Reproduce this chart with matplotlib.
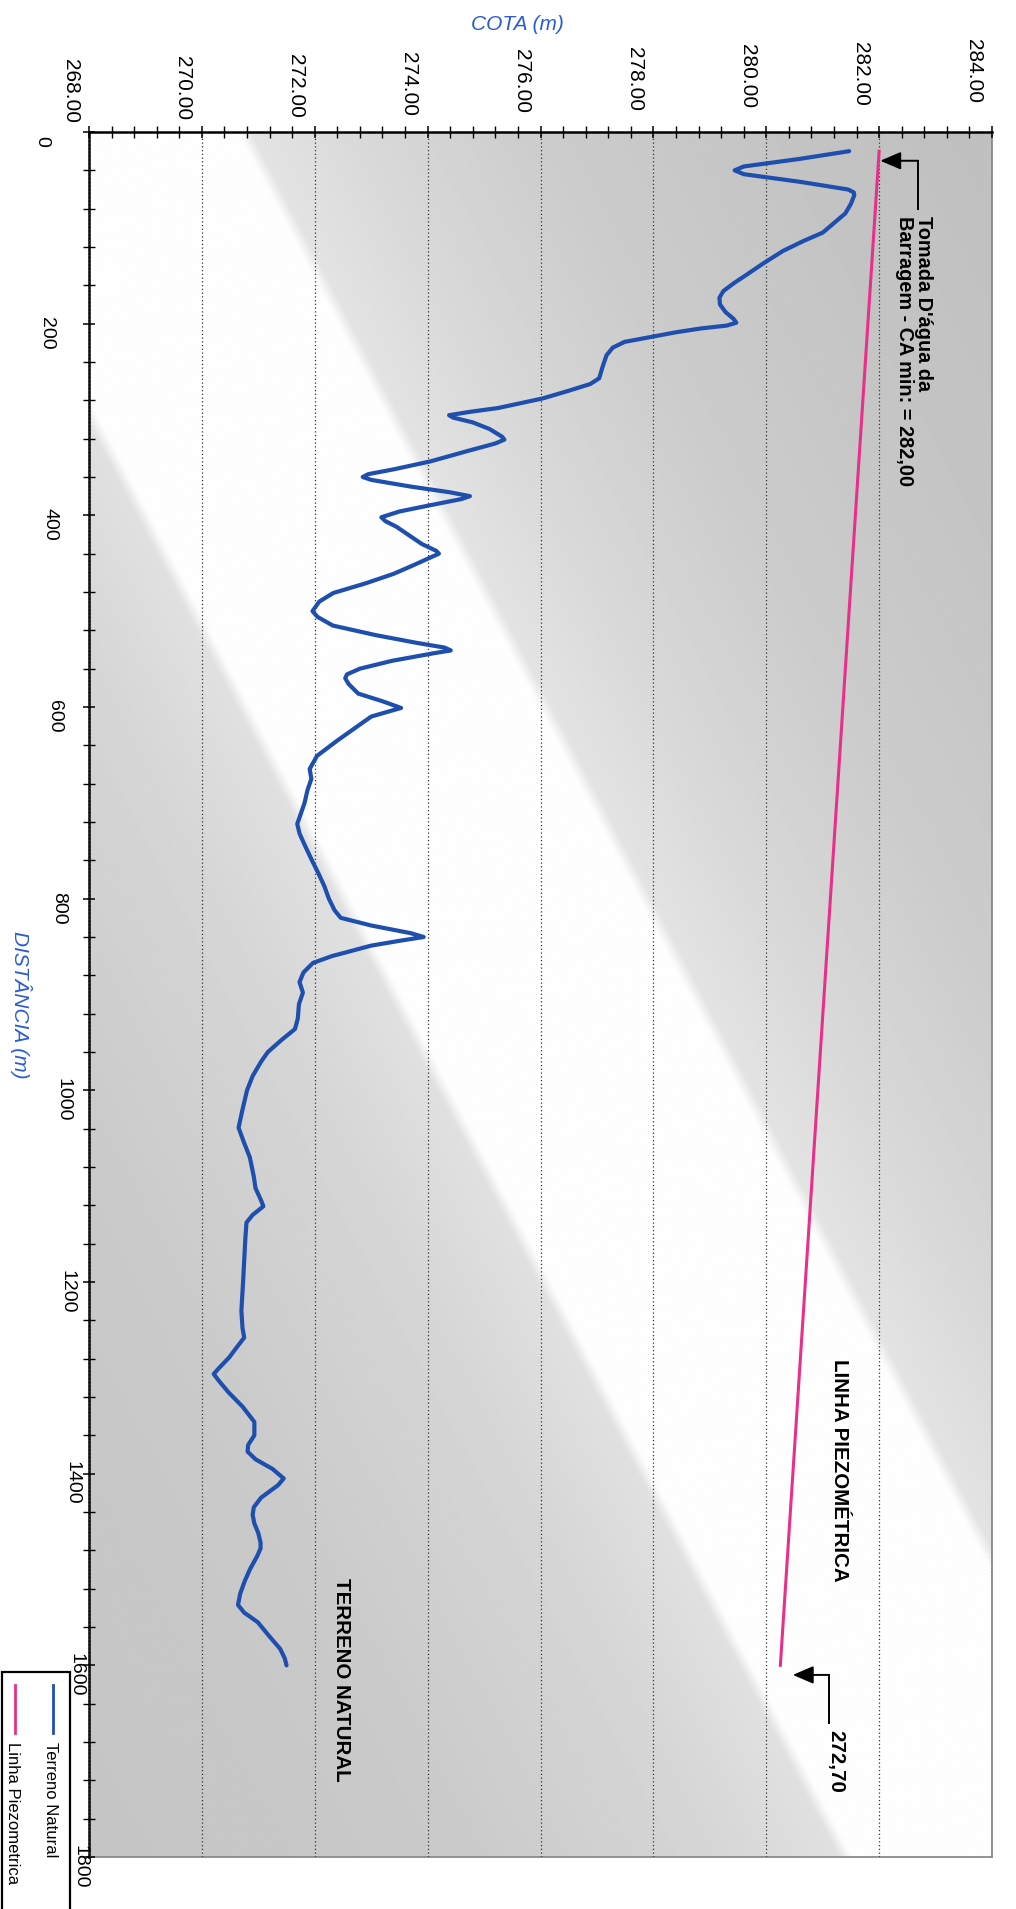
import matplotlib
matplotlib.use('Agg')
import matplotlib.pyplot as plt
import numpy as np
from matplotlib import font_manager
from matplotlib import transforms
from matplotlib.patches import Rectangle
from matplotlib.lines import Line2D
from matplotlib.ticker import MultipleLocator, FixedLocator

# ---- data (distancia em m, cota em m) ----
dist_terreno = [20, 28, 36, 40, 44, 52, 60, 63, 66, 75, 85, 95, 105, 114, 124, 137, 149, 158,
                166, 173, 180, 188, 195, 199, 202, 205, 209, 213, 219, 225, 233, 245, 257, 263,
                270, 278, 288, 292, 295.5, 298, 303, 310, 318, 321, 325, 333, 343.7, 352, 357,
                360, 363, 370, 376, 380, 383, 390, 396, 402, 406, 412, 420, 430, 437, 440, 444,
                452, 461, 471, 481, 490, 500, 506, 515, 525, 533, 538, 541, 544, 551.8, 560, 566,
                570, 576, 586, 594, 601, 604, 610, 620, 635, 651, 664.7, 675, 687, 700, 712, 722,
                732, 745, 760, 773, 787, 800, 812, 820, 828, 836, 840, 844, 849, 854, 860, 867,
                877, 887, 898, 910, 925, 936, 948, 960, 970, 985, 1000, 1020, 1039, 1055, 1070,
                1090, 1102, 1115, 1121, 1130, 1138, 1155, 1178, 1200, 1230, 1248, 1258, 1268,
                1279, 1290, 1296, 1303, 1315, 1330, 1346, 1360, 1370, 1377, 1385, 1395, 1405,
                1412, 1425, 1435, 1443, 1452, 1462, 1472, 1478, 1486, 1500, 1512, 1525, 1537,
                1545, 1555, 1570, 1583, 1593, 1600]
cota_terreno = [281.47, 280.6, 279.6, 279.44, 279.6, 280.6, 281.45, 281.55, 281.56, 281.5, 281.4,
                281.2, 281.0, 280.65, 280.3, 279.95, 279.65, 279.42, 279.24, 279.17, 279.18,
                279.28, 279.42, 279.47, 279.3, 278.84, 278.4, 278.04, 277.49, 277.28, 277.17,
                277.1, 277.04, 276.88, 276.5, 276.04, 275.25, 274.75, 274.38, 274.45, 274.8,
                275.1, 275.32, 275.36, 275.2, 274.7, 274.05, 273.4, 272.95, 272.85, 273.0, 273.7,
                274.4, 274.75, 274.6, 274.0, 273.5, 273.18, 273.25, 273.45, 273.65, 273.9, 274.15,
                274.2, 274.05, 273.75, 273.4, 272.9, 272.33, 272.08, 271.96, 272.05, 272.32,
                273.08, 273.8, 274.3, 274.41, 274.1, 273.37, 272.8, 272.57, 272.54, 272.6,
                272.77, 273.2, 273.53, 273.35, 273.0, 272.76, 272.4, 272.04, 271.91, 271.94,
                271.87, 271.82, 271.75, 271.69, 271.73, 271.83, 271.95, 272.06, 272.17, 272.25,
                272.35, 272.46, 273.0, 273.7, 273.93, 273.5, 273.0, 272.68, 272.3, 271.97, 271.8,
                271.73, 271.79, 271.72, 271.7, 271.65, 271.4, 271.17, 271.05, 270.9, 270.8,
                270.72, 270.65, 270.75, 270.85, 270.92, 270.95, 271.05, 271.09, 270.9, 270.79,
                270.77, 270.75, 270.73, 270.7, 270.72, 270.75, 270.62, 270.48, 270.3, 270.21,
                270.3, 270.47, 270.72, 270.93, 270.93, 270.82, 270.81, 270.95, 271.25, 271.45,
                271.35, 271.05, 270.92, 270.9, 270.93, 271.0, 271.04, 271.04, 270.98, 270.85,
                270.76, 270.68, 270.64, 270.75, 270.99, 271.2, 271.39, 271.47, 271.5]

dist_piezo = [20, 1600]
cota_piezo = [282.00, 280.25]

cota_ticks = [268, 270, 272, 274, 276, 278, 280, 282, 284]
dist_ticks = [0, 200, 400, 600, 800, 1000, 1200, 1400, 1600, 1800]

BLUE = '#1f4fae'
PINK = '#e8308a'
LABEL_BLUE = '#2a5bd7'

plt.rcParams['font.family'] = ['Liberation Sans', 'DejaVu Sans']
names = {f.name for f in font_manager.fontManager.ttflist}
if 'Liberation Sans Narrow' in names:
    bold_family, bold_size = ['Liberation Sans Narrow', 'DejaVu Sans'], 18
else:
    bold_family, bold_size = ['Liberation Sans', 'DejaVu Sans'], 14.8

W, H = 1016, 1909
AX_L, AX_T, AX_W, AX_H = 89, 132, 903, 1725   # axes box in pixels
fig = plt.figure(figsize=(W / 100, H / 100), dpi=100)
fig.patch.set_facecolor('white')
ax = fig.add_axes([AX_L / W, 1 - (AX_T + AX_H) / H, AX_W / W, AX_H / H])

# scanned-paper style diagonal shading (white band from top-left to bottom-right)
uu, vv = np.meshgrid(np.linspace(0, 1, 500), np.linspace(0, 1, 500))
w = uu - vv
shade = np.interp(w, [-1.0, -0.6, -0.3, -0.17, -0.155, 0.165, 0.18, 0.3, 0.5, 0.75, 1.0],
                  [0.77, 0.79, 0.84, 0.88, 0.995, 0.995, 0.89, 0.85, 0.80, 0.77, 0.75])
ax.imshow(shade, cmap='gray', vmin=0, vmax=1, extent=(0, 1, 0, 1), origin='upper',
          transform=ax.transAxes, aspect='auto', zorder=0, interpolation='bilinear')

ax.plot(cota_piezo, dist_piezo, color=PINK, lw=2.2, zorder=3)
ax.plot(cota_terreno, dist_terreno, color=BLUE, lw=3.0, solid_joinstyle='round',
        solid_capstyle='round', zorder=4)

ax.set_xlim(268, 284)
ax.set_ylim(1800, 0)

ax.xaxis.set_major_locator(FixedLocator(cota_ticks))
ax.xaxis.set_minor_locator(MultipleLocator(0.4))
ax.yaxis.set_major_locator(FixedLocator(dist_ticks))
ax.yaxis.set_minor_locator(MultipleLocator(40))

ax.tick_params(axis='x', which='both', top=True, bottom=False, labeltop=False,
               labelbottom=False, direction='inout')
ax.tick_params(axis='x', which='major', length=9, width=1.1)
ax.tick_params(axis='x', which='minor', length=8, width=1.0)
ax.tick_params(axis='y', which='both', left=True, right=False, labelleft=False,
               direction='inout')
ax.tick_params(axis='y', which='major', length=9, width=1.1)
ax.tick_params(axis='y', which='minor', length=9, width=1.0)

# tick labels placed by hand so they follow the slightly skewed scan
px_per_m = AX_W / 16.0
px_per_dist = AX_H / 1800.0
xlab_tr = transforms.blended_transform_factory(ax.transData, ax.transAxes)
for c in cota_ticks:
    u = (c - 268) / 16
    ax.text(c - 19 / px_per_m, 1 + (9 + 19.5 * u) / AX_H, f'{c:.2f}', transform=xlab_tr,
            rotation=-90, ha='center', va='bottom', fontsize=15, clip_on=False)
ylab_tr = transforms.blended_transform_factory(ax.transAxes, ax.transData)
for d in dist_ticks:
    v = d / 1800
    ax.text((42 + 38 * v - AX_L) / AX_W, d + 9.5 / px_per_dist, str(d), transform=ylab_tr,
            rotation=-90, ha='center', va='center', fontsize=14, clip_on=False)

ax.grid(axis='x', which='major', linestyle=(0, (1, 2)), color='#333333', lw=0.9, zorder=1)
ax.set_axisbelow(False)

for side in ['top', 'left']:
    ax.spines[side].set_color('black')
    ax.spines[side].set_linewidth(1.8)
for side in ['right', 'bottom']:
    ax.spines[side].set_color('#8a8a8a')
    ax.spines[side].set_linewidth(1.3)

fig.text(517 / W, 1 - 24 / H, 'COTA (m)', color=LABEL_BLUE, fontsize=15, style='italic',
         ha='center', va='center')
fig.text(21 / W, 1 - 1005 / H, 'DISTÂNCIA (m)', color=LABEL_BLUE, fontsize=15, style='italic',
         rotation=-90, ha='center', va='center')

# annotations
arrow_kw = dict(arrowstyle='-|>,head_length=0.7,head_width=0.3', color='black', lw=1.4,
                shrinkA=0, shrinkB=0, mutation_scale=18)
ax.annotate('', xy=(282.02, 30), xytext=(282.69, 30), arrowprops=arrow_kw, zorder=5)
ax.plot([282.69, 282.69], [30, 80], color='black', lw=1.4, zorder=5)
ax.text(282.62, 88, "Tomada D'água da\nBarragem - CA min: = 282,00", rotation=-90,
        ha='center', va='top', multialignment='left', fontsize=bold_size * 0.97,
        fontweight='bold', family=bold_family, linespacing=1.05, zorder=6)

ax.annotate('', xy=(280.47, 1610), xytext=(281.11, 1610), arrowprops=arrow_kw, zorder=5)
ax.plot([281.11, 281.11], [1610, 1660], color='black', lw=1.4, zorder=5)
ax.text(281.24, 1667, '272,70', rotation=-90, ha='center', va='top', fontsize=bold_size,
        fontweight='bold', family=bold_family, zorder=6)

ax.text(281.30, 1396, 'LINHA PIEZOMÉTRICA', rotation=-90, ha='center', va='center',
        fontsize=bold_size, fontweight='bold', family=bold_family, zorder=6)
ax.text(272.48, 1615, 'TERRENO NATURAL', rotation=-90, ha='center', va='center',
        fontsize=bold_size, fontweight='bold', family=bold_family, zorder=6)

# legend (rotated, drawn by hand)
fig.add_artist(Rectangle((2 / W, -0.01), 68 / W, (H - 1672) / H + 0.01,
                         transform=fig.transFigure, fill=False, ec='black', lw=1.6))
fig.add_artist(Line2D([53 / W, 53 / W], [1 - 1685 / H, 1 - 1733 / H], color=BLUE, lw=2,
                      transform=fig.transFigure))
fig.add_artist(Line2D([15 / W, 15 / W], [1 - 1685 / H, 1 - 1733 / H], color=PINK, lw=2,
                      transform=fig.transFigure))
fig.text(50 / W, 1 - 1742 / H, 'Terreno Natural', rotation=-90, ha='center', va='top',
         fontsize=12)
fig.text(12 / W, 1 - 1742 / H, 'Linha Piezometrica', rotation=-90, ha='center', va='top',
         fontsize=12)

fig.savefig('out.png', dpi=100)
